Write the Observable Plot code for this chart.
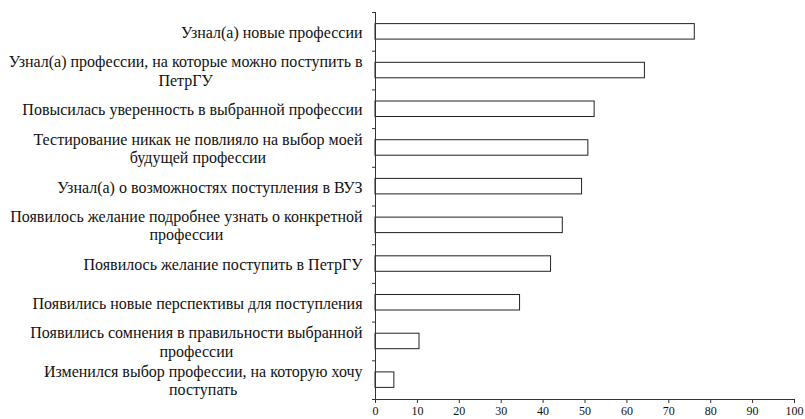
<!DOCTYPE html>
<html>
<head>
<meta charset="utf-8">
<script src="https://cdn.jsdelivr.net/npm/d3@7"></script>
<script src="https://cdn.jsdelivr.net/npm/@observablehq/plot@0.6"></script>
<style>
  html, body { margin: 0; padding: 0; background: #fff; overflow: hidden; }
  svg text { font-family: 'Liberation Serif', 'Times New Roman', serif !important; }
</style>
</head>
<body>
<div id="chart"></div>
<script>
const categories = [
  "Узнал(а) новые профессии",
  "Узнал(а) профессии, на которые можно поступить в\nПетрГУ",
  "Повысилась уверенность в выбранной профессии",
  "Тестирование никак не повлияло на выбор моей\nбудущей профессии",
  "Узнал(а) о возможностях поступления в ВУЗ",
  "Появилось желание подробнее узнать о конкретной\nпрофессии",
  "Появилось желание поступить в ПетрГУ",
  "Появились новые перспективы для поступления",
  "Появились сомнения в правильности выбранной\nпрофессии",
  "Изменился выбор профессии, на которую хочу\nпоступать"
];
const values = [76.2, 64.3, 52.3, 50.8, 49.3, 44.7, 41.9, 34.5, 10.5, 4.5];
const xTicks = [0, 10, 20, 30, 40, 50, 60, 70, 80, 90, 100];

const data = categories.map((c, i) => ({ label: c, value: values[i], i }));

const FONT = "'Liberation Serif', 'Times New Roman', serif";
const LABEL_SIZE = 16;
const ctx = document.createElement("canvas").getContext("2d");
ctx.font = `${LABEL_SIZE}px 'Liberation Serif'`;
function blockWidth(s) {
  return d3.max(s.split("\n"), line => ctx.measureText(line).width);
}

const labelMarks = data.map(d => Plot.text([d], {
  x: () => 0,
  y: e => e.i + 0.5,
  text: "label",
  textAnchor: "middle",
  lineAnchor: "middle",
  lineHeight: 1.15,
  dx: -(blockWidth(d.label) / 2) - 13,
  fontSize: LABEL_SIZE,
  fontFamily: FONT,
  fill: "#111"
}));

const chart = Plot.plot({
  width: 805,
  height: 419,
  marginLeft: 375,
  marginRight: 11,
  marginTop: 12,
  marginBottom: 20,
  style: { fontFamily: FONT, color: "#111", background: "#fff" },
  x: { domain: [0, 100], label: null },
  y: { domain: [0, 10], reverse: true, label: null },
  marks: [
    Plot.rectX(data, {
      x1: () => 0,
      x2: "value",
      y1: d => d.i + 0.3,
      y2: d => d.i + 0.7,
      fill: "white",
      stroke: "#222",
      strokeWidth: 1
    }),
    Plot.axisX({
      ticks: xTicks,
      tickSize: 4,
      tickPadding: 3,
      fontSize: 12,
      fontFamily: FONT,
      label: null,
      tickFormat: d => String(d),
      stroke: "#333"
    }),
    Plot.axisY({
      ticks: d3.range(11),
      tickSize: 3,
      label: null,
      tickFormat: () => "",
      stroke: "#333"
    }),
    Plot.ruleX([0], { stroke: "#333" }),
    Plot.ruleY([10], { stroke: "#333" }),
    ...labelMarks
  ]
});
document.getElementById("chart").appendChild(chart);
</script>
</body>
</html>
